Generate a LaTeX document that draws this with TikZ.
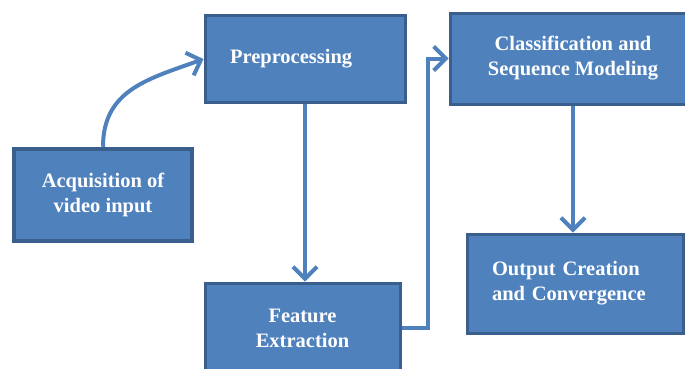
\documentclass[tikz,border=0pt]{standalone}
\usepackage{fontspec}
\setmainfont{Liberation Serif}
\usetikzlibrary{arrows.meta}
\definecolor{boxfill}{HTML}{4F81BD}
\definecolor{boxline}{HTML}{3A5F8C}
\begin{document}
\begin{tikzpicture}[x=1pt, y=-1pt,
  stage/.style={draw=boxline, fill=boxfill, line width=3pt, text=white, inner sep=0pt,
    font=\bfseries\fontsize{20.5}{25}\selectfont, align=center},
  flow/.style={draw=boxfill, line width=4pt, -{Straight Barb[length=12pt,width=24pt]}}]

\useasboundingbox (0,0) rectangle (685,368);
\clip (0,0) rectangle (685,368);

\node[stage, minimum width=178, minimum height=92, line width=4.5pt] (acq) at (103,195) {Acquisition of\\video input};
\node[stage, minimum width=200, minimum height=87, text width=150, inner xsep=25, align=left] (pre) at (305,59) {Preprocessing};
\node[stage, minimum width=195, minimum height=90] (fe) at (302.5,328) {Feature\\Extraction};
\node[stage, minimum width=246, minimum height=91] (cls) at (573,58.5) {Classification and\\Sequence Modeling};
\node[stage, minimum width=216, minimum height=99, text width=166, inner xsep=25, align=left] (out) at (575,283.5) {Output Creation\\and Convergence};

\draw[flow] (acq.north) to[out=90, in=200, looseness=1.1] (pre.west);
\draw[flow] (pre.south) -- (pre.south |- fe.north);
\draw[flow] (fe.east) -- ++(26,0) |- (cls.west);
\draw[flow] (cls.south) -- (cls.south |- out.north);
\end{tikzpicture}
\end{document}
